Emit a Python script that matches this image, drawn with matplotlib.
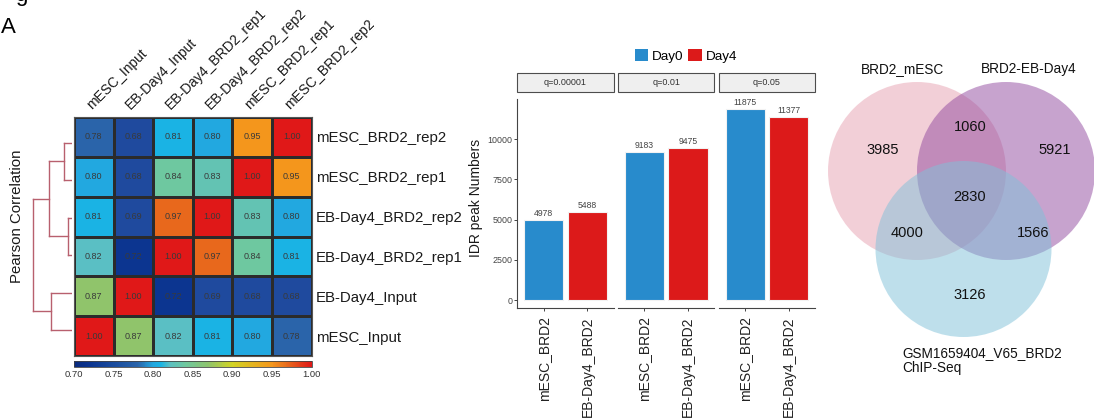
import numpy as np
import matplotlib
matplotlib.use("Agg")
import matplotlib.pyplot as plt
from matplotlib.colors import LinearSegmentedColormap, Normalize
from matplotlib.cm import ScalarMappable
from matplotlib.patches import Rectangle, Circle, Patch

plt.rcParams['font.family'] = ['Liberation Sans', 'DejaVu Sans']

W, H = 1094, 418

# ---------------- Pearson correlation heatmap (clustered order) ----------------
row_labels = ["mESC_BRD2_rep2", "mESC_BRD2_rep1", "EB-Day4_BRD2_rep2",
              "EB-Day4_BRD2_rep1", "EB-Day4_Input", "mESC_Input"]
col_labels = ["mESC_Input", "EB-Day4_Input", "EB-Day4_BRD2_rep1",
              "EB-Day4_BRD2_rep2", "mESC_BRD2_rep1", "mESC_BRD2_rep2"]
corr = np.array([
    [0.78, 0.68, 0.81, 0.80, 0.95, 1.00],
    [0.80, 0.68, 0.84, 0.83, 1.00, 0.95],
    [0.81, 0.69, 0.97, 1.00, 0.83, 0.80],
    [0.82, 0.72, 1.00, 0.97, 0.84, 0.81],
    [0.87, 1.00, 0.72, 0.69, 0.68, 0.68],
    [1.00, 0.87, 0.82, 0.81, 0.80, 0.78],
])
cbar_ticks = [0.70, 0.75, 0.80, 0.85, 0.90, 0.95, 1.00]

# row dendrogram: (child a, child b, merge height as 1 - r)
dend_merges = [
    (0, 1, 0.049),
    (2, 3, 0.027),
    (4, 5, 0.138),
    ("m0", "m1", 0.151),
    ("m3", "m2", 0.256),
]

# ---------------- IDR peak numbers ----------------
thresholds = ["q=0.00001", "q=0.01", "q=0.05"]
samples = ["mESC_BRD2", "EB-Day4_BRD2"]
day0_peaks = [4978, 9183, 11875]
day4_peaks = [5488, 9475, 11377]
y_ticks = [0, 2500, 5000, 7500, 10000]

# ---------------- Venn overlap ----------------
venn_names = ["BRD2_mESC", "BRD2-EB-Day4", "GSM1659404_V65_BRD2\nChIP-Seq"]
venn_counts = {"100": 3985, "010": 5921, "001": 3126,
               "110": 1060, "101": 4000, "011": 1566, "111": 2830}

fig = plt.figure(figsize=(W / 100, H / 100), dpi=100)


def px_axes(x0, y0, x1, y1):
    return fig.add_axes([x0 / W, 1 - y1 / H, (x1 - x0) / W, (y1 - y0) / H])


# panel letter
fig.text(0.5 / W, 1 - 33 / H, "A", fontsize=16, va="baseline", ha="left")
fig.text(15 / W, 1 - 0.5 / H, "g", fontsize=16, va="baseline", ha="left")

# colour scale
nodes = [(0.70, '#0a2a7e'), (0.72, '#0c3590'), (0.75, '#1a4c9e'),
         (0.78, '#2a64aa'), (0.80, '#22a8e0'), (0.81, '#1ab4e4'),
         (0.82, '#5abfc4'), (0.84, '#6ec8a0'), (0.87, '#8fc46c'),
         (0.90, '#d2d424'), (0.95, '#f4971c'), (0.97, '#e86a1c'),
         (1.00, '#e01818')]
vmin, vmax = 0.70, 1.00
cmap = LinearSegmentedColormap.from_list(
    "corr", [((v - vmin) / (vmax - vmin), c) for v, c in nodes])
cmap.set_under('#1f4a9e')
norm = Normalize(vmin, vmax)

hx0, hy0, hx1, hy1 = 74, 117, 311.5, 356
hax = px_axes(hx0, hy0, hx1, hy1)
n = corr.shape[0]
hax.pcolormesh(np.arange(n + 1), np.arange(n + 1), corr, cmap=cmap, norm=norm,
               edgecolors='#2b2b2b', linewidth=0.8)
hax.set_xlim(0, n)
hax.set_ylim(n, 0)
for i in range(n):
    for j in range(n):
        hax.text(j + 0.5, i + 0.5, f"{corr[i, j]:.2f}", ha="center", va="center",
                 fontsize=6.5, color="#3a3a3a")
hax.yaxis.tick_right()
hax.set_yticks(np.arange(n) + 0.5)
hax.set_yticklabels(row_labels, fontsize=10.8, color="#1a1a1a")
hax.tick_params(axis="y", length=0, pad=3)
hax.set_xticks([])
for j, lab in enumerate(col_labels):
    hax.text(j + 0.5, -0.126, lab, rotation=45, rotation_mode="anchor",
             ha="left", va="bottom", fontsize=10, color="#1a1a1a")
for s in hax.spines.values():
    s.set_color("#555555")
    s.set_linewidth(0.8)

# colour bar
cax = px_axes(hx0, 360.7, hx1, 367)
cb = fig.colorbar(ScalarMappable(norm=norm, cmap=cmap), cax=cax,
                  orientation="horizontal", ticks=cbar_ticks)
cb.ax.set_xticklabels([f"{t:.2f}" for t in cbar_ticks])
cb.ax.tick_params(length=0, pad=2, labelsize=6.8, labelcolor="#333333")
cb.outline.set_linewidth(0.6)
cb.outline.set_edgecolor("#444444")

# dendrogram
leaf_y0, leaf_step = 142.7, 37.5
dax = px_axes(20, hy0, 71.7, hy1)
dmax = (71.7 - 20) / 150.0
dax.set_xlim(dmax, 0)
dax.set_ylim((hy1 - leaf_y0) / leaf_step, (hy0 - leaf_y0) / leaf_step)
dax.axis("off")
nodes_pos = {}


def node(key):
    if isinstance(key, int):
        return key, 0.0
    return nodes_pos[key]


dcol = "#b8606e"
for k, (a, b, h) in enumerate(dend_merges):
    ya, xa = node(a)
    yb, xb = node(b)
    dax.plot([xa, h], [ya, ya], color=dcol, lw=1)
    dax.plot([xb, h], [yb, yb], color=dcol, lw=1)
    dax.plot([h, h], [ya, yb], color=dcol, lw=1)
    nodes_pos[f"m{k}"] = ((ya + yb) / 2, h)

fig.text(17 / W, 1 - 216.5 / H, "Pearson Correlation", rotation=90,
         ha="center", va="center", fontsize=10.8, color="#1a1a1a")

# ---------------- faceted bar chart ----------------
blue, red = "#288bcc", "#dc1a1a"
panels_x = [(517.3, 613.7), (618.3, 714.3), (719.0, 815.0)]
strip_y0, strip_y1 = 73, 92
for k, (x0, x1) in enumerate(panels_x):
    ax = px_axes(x0, 99.3, x1, 308.3)
    bars = ax.bar([1, 2], [day0_peaks[k], day4_peaks[k]], width=0.9,
                  color=[blue, red], edgecolor="#f2f2f2", linewidth=0.8)
    ax.bar_label(bars, labels=[str(day0_peaks[k]), str(day4_peaks[k])],
                 padding=1.5, fontsize=6.2, color="#444444")
    ax.set_xlim(0.4, 2.6)
    ax.set_ylim(-516, 12478)
    ax.set_xticks([1, 2])
    ax.set_xticklabels(samples, rotation=90, ha="center", va="top",
                       fontsize=10, color="#222222")
    ax.tick_params(axis="x", length=2.2, width=0.7, color="#444444", pad=3.5)
    for side in ("top", "right"):
        ax.spines[side].set_visible(False)
    ax.spines["bottom"].set_color("#444444")
    ax.spines["bottom"].set_linewidth(0.8)
    if k == 0:
        ax.set_yticks(y_ticks)
        ax.set_yticklabels([str(t) for t in y_ticks])
        ax.tick_params(axis="y", length=2.2, width=0.7, color="#444444",
                       labelsize=6.4, labelcolor="#444444", pad=1.5)
        ax.spines["left"].set_color("#444444")
        ax.spines["left"].set_linewidth(0.8)
    else:
        ax.set_yticks([])
        ax.spines["left"].set_visible(False)
    ax.patch.set_alpha(0)
    fig.add_artist(Rectangle((x0 / W, 1 - strip_y1 / H), (x1 - x0) / W,
                             (strip_y1 - strip_y0) / H, transform=fig.transFigure,
                             facecolor="#efefef", edgecolor="#4d4d4d", lw=0.8))
    fig.text((x0 + x1) / 2 / W, 1 - (strip_y0 + strip_y1) / 2 / H, thresholds[k],
             ha="center", va="center", fontsize=6.5, color="#333333")

fig.text(476 / W, 1 - 198 / H, "IDR peak Numbers", rotation=90,
         ha="center", va="center", fontsize=10, color="#1a1a1a")

fig.legend(handles=[Patch(facecolor=blue, label="Day0"),
                    Patch(facecolor=red, label="Day4")],
           loc="center", bbox_to_anchor=(686 / W, 1 - 56 / H), ncol=2,
           frameon=False, fontsize=9.7, handlelength=1.0, handleheight=1.0,
           handletextpad=0.3, columnspacing=0.35, borderpad=0, borderaxespad=0)

# ---------------- Venn diagram ----------------
vax = px_axes(820, 40, 1094, 400)
vax.set_xlim(820, 1094)
vax.set_ylim(400, 40)
vax.axis("off")
circles = [((917, 171), 89, "#e7a1b1"),
           ((1006, 171), 89, "#91499f"),
           ((963.5, 249), 88, "#7fc1d9")]
for (cx, cy), r, col in circles:
    vax.add_patch(Circle((cx, cy), r, facecolor=col, alpha=0.5,
                         edgecolor="none", clip_on=False))
count_pos = {"100": (883, 150), "110": (970, 127), "010": (1055, 150),
             "111": (970, 197), "101": (907, 233), "011": (1033, 233),
             "001": (970, 295)}
for key, (x, y) in count_pos.items():
    vax.text(x, y, str(venn_counts[key]), ha="center", va="center",
             fontsize=10.5, color="#111111")
vax.text(903, 69, venn_names[0], ha="center", va="center", fontsize=9.8,
         color="#111111")
vax.text(1029, 69, venn_names[1], ha="center", va="center", fontsize=9.8,
         color="#111111")
vax.text(902, 346, venn_names[2], ha="left", va="top", fontsize=9.8,
         color="#111111", linespacing=1.1)

fig.savefig("out.png", dpi=100)
